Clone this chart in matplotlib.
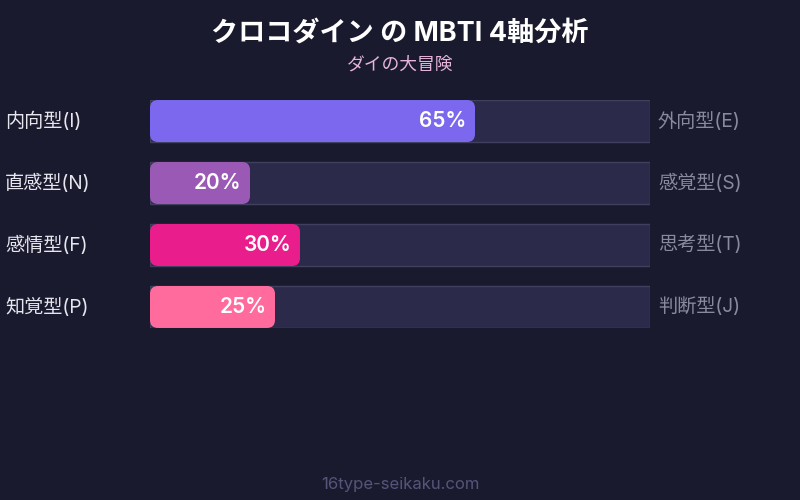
import matplotlib
matplotlib.use('Agg')
import matplotlib.pyplot as plt
from matplotlib.patches import FancyBboxPatch
from matplotlib import transforms

plt.rcParams['font.family'] = ['Inter', 'Noto Sans CJK JP', 'DejaVu Sans']

# data
left_labels = ['内向型(I)', '直感型(N)', '感情型(F)', '知覚型(P)']
right_labels = ['外向型(E)', '感覚型(S)', '思考型(T)', '判断型(J)']
values = [65, 20, 30, 25]
colors = ['#7b68ee', '#9b59b6', '#e91e8c', '#ff6b9d']

title = 'クロコダイン の MBTI 4軸分析'
subtitle = 'ダイの大冒険'
footer = '16type-seikaku.com'

bg = '#1a1a2e'
fig = plt.figure(figsize=(8, 5), dpi=100, facecolor=bg)

# axes placed where the bar tracks sit (150..650 px wide, 100..328 px tall)
ax = fig.add_axes([150/800, 1 - 328/500, 500/800, 228/500])
ax.set_facecolor('none')
ax.set_xlim(0, 100)
ax.set_ylim(3.339, -0.339)
ax.axis('off')

ypos = list(range(len(values)))
h = 42/62

# background tracks
ax.barh(ypos, [100]*len(values), height=h, color='#2c2a4a',
        edgecolor='#40405e', linewidth=1)

# filled bars with rounded corners
fills = ax.barh(ypos, values, height=h, color='none')
r = 1.6
for b, c, v in zip(fills, colors, values):
    p = FancyBboxPatch((b.get_x(), b.get_y()), b.get_width(), b.get_height(),
                       boxstyle='round,pad=0,rounding_size=%f' % r,
                       mutation_aspect=(8/62)/r, facecolor=c,
                       edgecolor='none', zorder=3)
    ax.add_patch(p)
    ax.text(v - 1.7, b.get_y() + b.get_height()/2, '%d%%' % v,
            color='white', fontsize=15, fontweight='semibold',
            ha='right', va='center', zorder=4)

trans = transforms.blended_transform_factory(ax.transAxes, ax.transData)
for y, lt, rt in zip(ypos, left_labels, right_labels):
    ax.text(-0.29, y, lt, transform=trans, color='#e6e6ee', fontsize=13.8,
            ha='left', va='center')
    ax.text(1.016, y, rt, transform=trans, color='#8a8a9e', fontsize=13.8,
            ha='left', va='center')

fig.text(0.5, 1 - 34/500, title, color='white', fontsize=19.5,
         fontweight='bold', ha='center', va='center')
fig.text(0.5, 1 - 65/500, subtitle, color='#e6b3dc', fontsize=12.8,
         ha='center', va='center')
fig.text(0.5, 1 - 484/500, footer, color='#55557a', fontsize=12,
         ha='center', va='center')

fig.savefig('out.png', dpi=100, facecolor=bg)
